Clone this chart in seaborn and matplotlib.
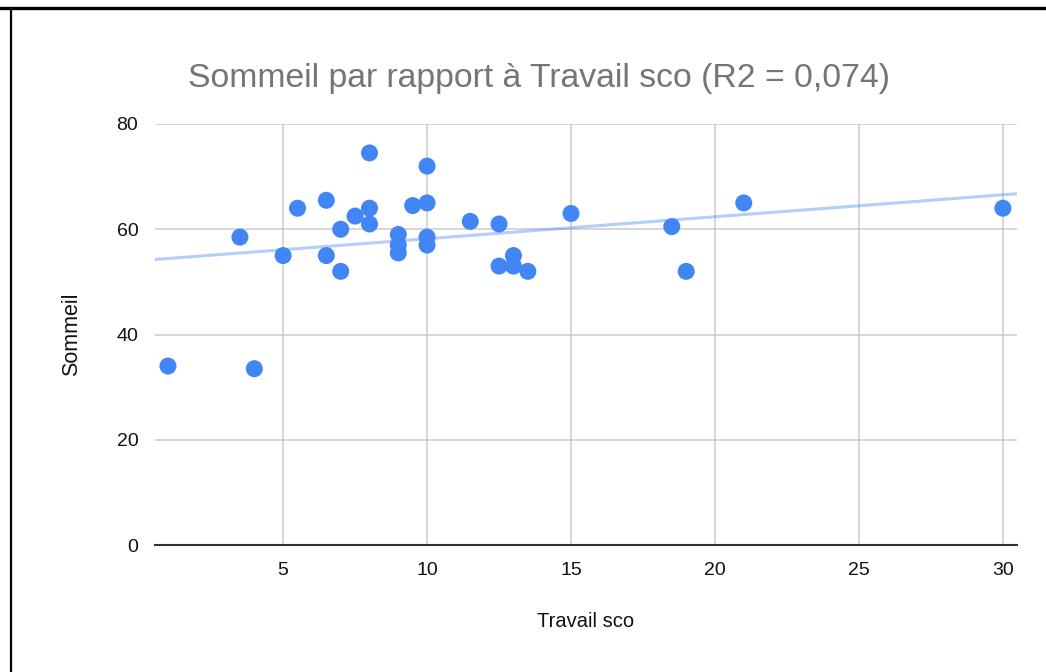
import numpy as np
import pandas as pd
import matplotlib
matplotlib.use("Agg")
import matplotlib.pyplot as plt
import seaborn as sns
from matplotlib.lines import Line2D

# values
travail_sco = [1, 3.5, 4, 5, 5.5, 6.5, 6.5, 7, 7, 7.5, 8, 8, 8,
               9, 9, 9, 9.5, 10, 10, 10, 10, 11.5, 12.5, 12.5,
               13, 13, 13.5, 15, 18.5, 19, 21, 30]
sommeil = [34, 58.5, 33.5, 55, 64, 65.5, 55, 60, 52, 62.5, 74.5, 64, 61,
           59, 57, 55.5, 64.5, 72, 65, 58.5, 57, 61.5, 61, 53,
           55, 53, 52, 63, 60.5, 52, 65, 64]

title = "Sommeil par rapport à Travail sco (R2 = 0,074)"
x_label = "Travail sco"
y_label = "Sommeil"
x_ticks = [5, 10, 15, 20, 25, 30]
y_ticks = [0, 20, 40, 60, 80]

df = pd.DataFrame({"Travail sco": travail_sco, "Sommeil": sommeil})

sns.set_style("white")
plt.rcParams["font.family"] = ["Liberation Sans", "DejaVu Sans"]

fig = plt.figure(figsize=(10.46, 6.72), dpi=100)
ax = fig.add_axes([155 / 1046, 1 - 545 / 672, (1017 - 155) / 1046, (545 - 124) / 672])

ax.set_xlim(0.55, 30.49)
ax.set_ylim(0, 80)
ax.set_xticks(x_ticks)
ax.set_yticks(y_ticks)
ax.grid(True, color="#cccccc", linewidth=1.1)
ax.set_axisbelow(True)

# trendline over full axis width
sns.regplot(data=df, x="Travail sco", y="Sommeil", ax=ax, scatter=False,
            ci=None, truncate=False,
            line_kws={"color": "#4285F4", "alpha": 0.4, "linewidth": 2.2})

sns.scatterplot(data=df, x="Travail sco", y="Sommeil", ax=ax, s=150,
                color="#4285F4", edgecolor="none", zorder=3)

for side in ["top", "right", "left"]:
    ax.spines[side].set_visible(False)
ax.spines["bottom"].set_color("#333333")
ax.spines["bottom"].set_linewidth(1.5)
ax.spines["bottom"].set_zorder(2)

ax.tick_params(axis="both", length=0, labelsize=14, colors="#111111")
ax.tick_params(axis="x", pad=12)
ax.tick_params(axis="y", pad=12)

ax.set_xlabel(x_label, fontsize=14.5, color="#111111", labelpad=24)
ax.set_ylabel(y_label, fontsize=15.5, color="#111111", labelpad=25)

fig.text(539 / 1046, 1 - 78 / 672, title, ha="center", va="center",
         fontsize=24.3, color="#757575")

# frame lines of the screenshot
fig.add_artist(Line2D([0, 1], [1 - 8 / 672, 1 - 8 / 672], color="black",
                      linewidth=2.4, transform=fig.transFigure))
fig.add_artist(Line2D([11 / 1046, 11 / 1046], [0, 1 - 8 / 672], color="black",
                      linewidth=1.6, transform=fig.transFigure))

fig.savefig("out.png", dpi=100)
